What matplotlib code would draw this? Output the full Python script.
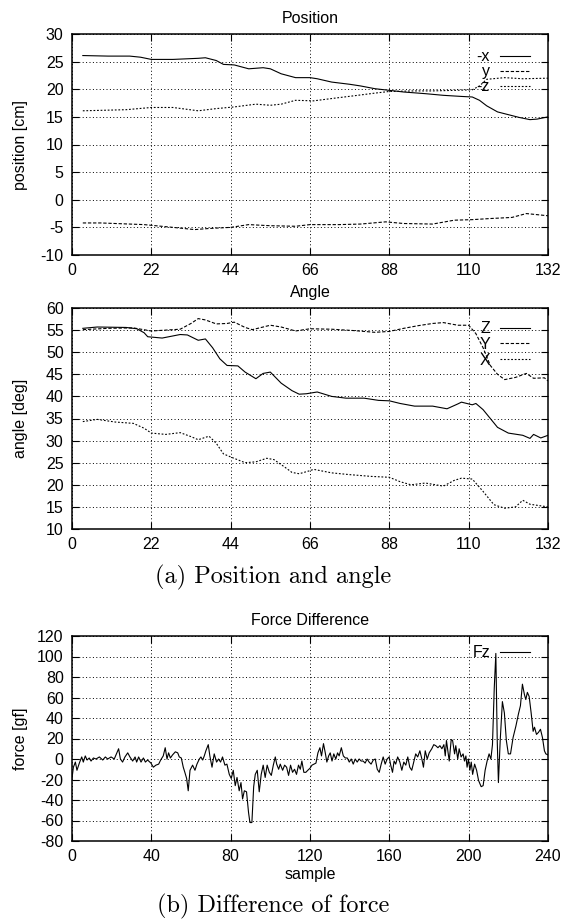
import matplotlib
matplotlib.use('Agg')
import matplotlib.pyplot as plt

plt.rcParams['font.family'] = ['Liberation Sans', 'DejaVu Sans']
plt.rcParams['axes.unicode_minus'] = False

# Position [cm]
t_negx = [3, 10, 16, 19, 22, 28, 35, 37, 40, 42, 45, 49, 53, 55, 58, 62, 66, 68, 72, 77,
          80, 84, 88, 92, 98, 103, 108, 111, 113, 115, 118, 121, 124, 127, 129, 132]
negx = [26.1, 26.0, 26.0, 25.8, 25.4, 25.4, 25.6, 25.7, 25.2, 24.5, 24.4, 23.7, 23.9, 23.7,
        22.8, 22.1, 22.1, 21.9, 21.3, 20.9, 20.6, 20.1, 19.8, 19.5, 19.2, 18.9, 18.7, 18.6,
        18.0, 17.0, 15.9, 15.4, 14.9, 14.5, 14.6, 15.0]

t_y = [3, 8, 20, 28, 34, 38, 44, 49, 55, 62, 66, 74, 80, 87, 92, 100, 106, 111, 116, 122,
       126, 132]
pos_y = [-4.2, -4.2, -4.5, -5.0, -5.4, -5.2, -5.0, -4.5, -4.7, -4.8, -4.5, -4.5, -4.4, -4.0,
         -4.3, -4.4, -3.7, -3.6, -3.4, -3.2, -2.5, -2.9]

t_negz = [3, 15, 22, 28, 35, 40, 45, 51, 55, 58, 62, 67, 73, 78, 84, 88, 95, 100, 106, 111,
          113, 115, 120, 125, 132]
negz = [16.1, 16.3, 16.7, 16.7, 16.1, 16.5, 16.8, 17.3, 17.1, 17.3, 18.0, 17.9, 18.4, 18.8,
        19.3, 19.6, 19.7, 19.7, 19.8, 19.9, 20.6, 21.8, 22.1, 21.9, 22.0]

# Angle [deg]
t_az = [3, 7, 15, 18, 20, 21, 25, 30, 32, 35, 37, 39, 41, 43, 46, 48, 51, 53, 55, 58, 61,
        63, 65, 68, 70, 72, 76, 81, 85, 88, 91, 95, 100, 104, 107, 108, 111, 112, 114, 116,
        118, 121, 125, 127, 128, 130, 132]
ang_z = [55.4, 55.7, 55.6, 55.3, 54.4, 53.5, 53.2, 54.0, 53.9, 52.7, 53.0, 51.0, 48.5, 47.0,
         46.9, 45.5, 44.0, 45.2, 45.5, 43.0, 41.3, 40.5, 40.6, 41.0, 40.5, 40.0, 39.6, 39.6,
         39.1, 39.0, 38.4, 37.8, 37.8, 37.2, 38.3, 38.7, 38.1, 38.4, 37.0, 35.0, 33.0, 31.7,
         31.2, 30.5, 31.4, 30.6, 31.2]

t_ay = [3, 10, 17, 22, 26, 30, 33, 35, 37, 40, 43, 45, 48, 50, 55, 58, 62, 66, 72, 78, 84,
        88, 92, 96, 100, 103, 107, 110, 112, 114, 116, 118, 120, 123, 126, 128, 131, 132]
ang_y = [55.1, 55.4, 55.5, 54.8, 55.0, 55.2, 56.5, 57.6, 57.3, 56.4, 56.5, 56.8, 55.6, 55.1,
         56.1, 55.7, 54.8, 55.3, 55.2, 54.9, 54.5, 54.7, 55.4, 56.0, 56.5, 56.7, 56.1, 56.1,
         54.2, 51.0, 47.0, 45.0, 43.8, 44.3, 45.2, 44.1, 44.2, 43.5]

t_ax = [3, 7, 12, 17, 20, 22, 26, 30, 33, 35, 38, 40, 42, 44, 48, 51, 54, 56, 59, 61, 63,
        66, 67, 72, 77, 83, 88, 91, 94, 98, 103, 106, 108, 111, 114, 117, 120, 123, 125,
        127, 132]
ang_x = [34.3, 34.8, 34.2, 33.9, 32.8, 31.7, 31.4, 31.8, 30.9, 30.2, 31.0, 29.4, 27.0, 26.3,
         25.0, 25.2, 26.0, 25.7, 24.0, 22.8, 22.5, 23.2, 23.5, 22.7, 22.3, 21.9, 21.7, 20.7,
         20.0, 20.4, 19.7, 21.0, 21.5, 21.3, 18.5, 15.5, 14.7, 15.0, 16.5, 15.6, 15.0]

# Force difference [gf]
sample = [0.0, 0.7, 1.7, 2.5, 3.7, 4.9, 5.7, 6.7, 7.6, 8.7, 9.6, 10.8, 12.1, 13.8, 15.5,
          16.8, 18.0, 19.7, 21.3, 23.5, 24.4, 25.5, 26.7, 28.1, 29.2, 30.6, 31.8, 32.6,
          33.6, 34.8, 36.0, 37.0, 38.1, 39.8, 41.0, 42.3, 43.7, 44.7, 46.0, 47.0, 47.9,
          48.7, 49.6, 50.7, 52.1, 53.3, 54.1, 55.1, 56.1, 56.9, 57.8, 58.6, 59.5, 60.8,
          62.0, 63.0, 64.2, 65.0, 65.9, 66.7, 67.5, 68.7, 69.5, 70.6, 71.7, 72.9, 73.9,
          74.9, 75.9, 77.1, 78.1, 79.3, 80.3, 81.3, 82.3, 83.2, 84.3, 85.2, 86.0, 86.9,
          88.0, 89.0, 89.7, 90.7, 91.6, 92.4, 93.4, 94.4, 95.4, 96.4, 97.4, 98.4, 99.5,
          100.5, 101.5, 102.5, 103.2, 104.2, 105.0, 106.2, 107.2, 108.2, 109.2, 110.2,
          111.2, 112.2, 113.2, 114.2, 115.1, 115.9, 116.9, 117.9, 118.9, 120.0, 121.0,
          122.0, 123.0, 124.0, 125.0, 125.8, 126.8, 127.7, 128.5, 129.4, 130.2, 131.1,
          132.0, 133.0, 133.9, 134.7, 135.8, 136.8, 137.8, 138.8, 139.8, 140.8, 141.8,
          142.8, 143.8, 144.8, 145.8, 146.8, 147.8, 148.8, 149.8, 150.8, 151.9, 152.9,
          153.9, 154.9, 155.9, 156.9, 157.9, 158.9, 159.9, 160.7, 161.6, 162.4, 163.2,
          164.2, 165.3, 166.3, 167.3, 168.3, 169.3, 170.3, 171.3, 172.3, 173.3, 174.3,
          175.4, 176.4, 177.2, 178.1, 179.1, 180.1, 181.4, 182.4, 183.4, 184.5, 185.5,
          186.5, 187.5, 188.2, 188.8, 189.5, 190.2, 191.2, 191.9, 192.9, 193.5, 194.5,
          195.2, 196.2, 197.2, 197.9, 198.6, 199.2, 199.9, 200.6, 201.3, 202.0, 203.0,
          204.0, 205.0, 206.3, 207.3, 208.3, 209.3, 210.3, 211.2, 212.0, 212.9, 213.7,
          214.4, 215.0, 215.9, 217.0, 218.0, 219.0, 220.0, 221.1, 222.4, 223.8, 225.1,
          226.1, 227.1, 228.1, 228.8, 229.6, 230.5, 231.5, 232.5, 233.2, 234.2, 235.2,
          236.2, 237.2, 238.2, 238.9, 240.0]
fz = [-19, -8, -3, -11, -4, 2, -3, 3, -1, 1, -2, 1, 0, 2, -1, 2, 0, 2, 0, 10, 0, -3, 2, 6,
      2, -2, 2, -3, 2, -3, 1, -3, -1, -4, -8, -6, -5, -1, 3, 11, 0, 6, 1, 4, 7, 6, 2, 1,
      -8, -13, -19, -31, -11, -6, -11, -5, 0, 2, -1, 3, 8, 14, 3, -8, 5, -3, 0, -3, 2, -6,
      -5, -15, -19, -11, -26, -18, -31, -23, -39, -31, -32, -52, -62, -62, -27, -15, -11,
      -32, -15, -6, -18, -6, -13, -16, -6, 2, -5, -10, -5, -11, -6, -8, -16, -6, -13, -10,
      -15, -6, -10, -2, -13, -13, -11, -9, -6, -5, -4, 6, 11, 3, 15, 6, -3, 3, 6, -2, 5, 0,
      6, 3, 11, 3, 1, 1, -3, 0, -5, 0, -3, 0, -2, -2, -4, 0, -3, -5, -1, 0, -10, -13, -5,
      2, -5, 0, 2, -6, -13, -2, -5, 2, -3, -11, -3, -6, 2, -8, -11, -3, 5, 2, 8, 0, -8, 8,
      0, 6, 10, 14, 13, 11, 13, 10, 14, 3, 18, 8, -2, 19, 18, 5, 13, 0, 10, 2, 5, -2, 3,
      -8, 0, -11, -3, -15, -5, -11, -21, -27, -26, -11, -2, 5, 0, 14, 69, 103, 18, -23,
      18, 56, 45, 18, 5, 5, 21, 32, 44, 52, 73, 63, 58, 65, 61, 45, 27, 31, 24, 26, 29,
      21, 8, 5, 4]

fig = plt.figure(figsize=(5.62, 9.19), dpi=100)

W, H = 562, 919
FS = 11.5


def make_axes(top, bottom):
    # pixel box -> figure fraction
    ax = fig.add_axes([72 / W, 1 - bottom / H, 476 / W, (bottom - top) / H])
    ax.grid(True, color='black', linestyle=(0, (1, 2.5)), linewidth=0.7)
    ax.tick_params(direction='in', length=5, width=0.8, top=True, right=True,
                   labelsize=FS, pad=6, colors='black')
    for s in ax.spines.values():
        s.set_linewidth(1.1)
    ax.yaxis.set_label_coords(-0.092, 0.5)
    return ax


def add_legend(ax, top, spacing):
    ax.legend(loc='upper right', bbox_to_anchor=(0.962, top), frameon=False,
              markerfirst=False, fontsize=FS, handlelength=1.9, handletextpad=0.6,
              labelspacing=spacing, borderpad=0, borderaxespad=0)


dash_y = (0, (3, 1.6))
dot_z = (0, (1.6, 1.6))

ax1 = make_axes(34, 255)
ax1.plot(t_negx, negx, color='black', lw=0.8, label='-x')
ax1.plot(t_y, pos_y, color='black', lw=0.8, ls=dash_y, label='y')
ax1.plot(t_negz, negz, color='black', lw=0.8, ls=dot_z, label='-z')
ax1.set_xlim(0, 132)
ax1.set_ylim(-10, 30)
ax1.set_xticks(range(0, 133, 22))
ax1.set_yticks(range(-10, 31, 5))
ax1.set_title('Position', fontsize=FS, pad=8)
ax1.set_ylabel('position [cm]', fontsize=FS)
add_legend(ax1, 0.93, 0.0)

ax2 = make_axes(308, 529)
ax2.plot(t_az, ang_z, color='black', lw=0.8, label='Z')
ax2.plot(t_ay, ang_y, color='black', lw=0.8, ls=dash_y, label='Y')
ax2.plot(t_ax, ang_x, color='black', lw=0.8, ls=dot_z, label='X')
ax2.set_xlim(0, 132)
ax2.set_ylim(10, 60)
ax2.set_xticks(range(0, 133, 22))
ax2.set_yticks(range(10, 61, 5))
ax2.set_title('Angle', fontsize=FS, pad=8)
ax2.set_ylabel('angle [deg]', fontsize=FS)
add_legend(ax2, 0.94, 0.05)

ax3 = make_axes(636, 841)
ax3.plot(sample, fz, color='black', lw=0.8, label='Fz')
ax3.set_xlim(0, 240)
ax3.set_ylim(-80, 120)
ax3.set_xticks(range(0, 241, 40))
ax3.set_yticks(range(-80, 121, 20))
ax3.set_title('Force Difference', fontsize=FS, pad=8)
ax3.set_ylabel('force [gf]', fontsize=FS)
ax3.set_xlabel('sample', fontsize=FS, labelpad=2)
add_legend(ax3, 0.955, 0.0)

fig.text(273 / W, 1 - 577 / H, '(a) Position and angle', family='cmr10',
         fontsize=17.5, ha='center', va='center')
fig.text(273 / W, 1 - 906 / H, '(b) Difference of force', family='cmr10',
         fontsize=17.5, ha='center', va='center')

fig.savefig('out.png', dpi=100)
